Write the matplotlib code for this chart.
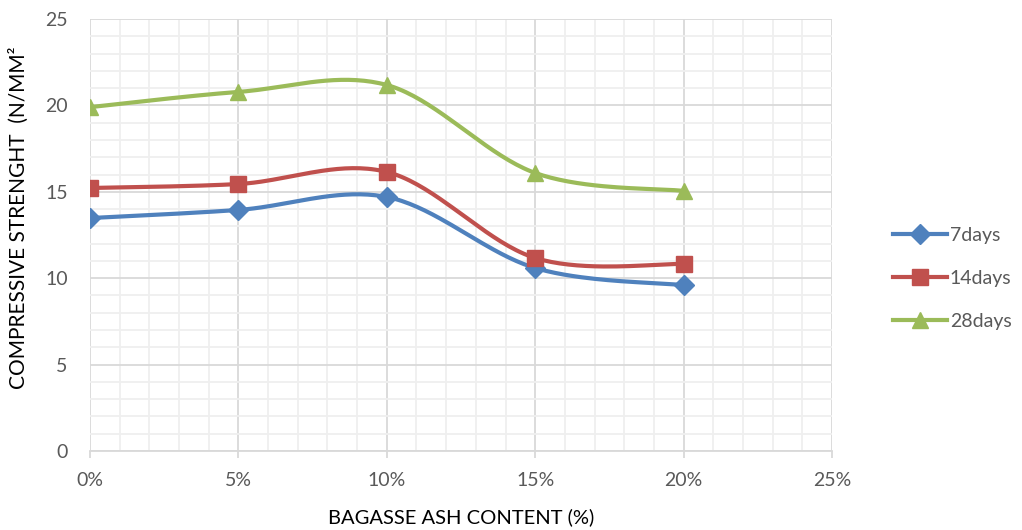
import numpy as np
import matplotlib
matplotlib.use("Agg")
import matplotlib.pyplot as plt
from matplotlib.ticker import MultipleLocator, FuncFormatter

# Data
ash_content = [0, 5, 10, 15, 20]  # %
days7 = [13.48, 13.95, 14.70, 10.59, 9.60]
days14 = [15.22, 15.45, 16.15, 11.17, 10.82]
days28 = [19.90, 20.78, 21.18, 16.09, 15.05]
series_names = ["7days", "14days", "28days"]

colors = ["#4F81BD", "#C0504D", "#9BBB59"]
markers = ["D", "s", "^"]
msizes = [10, 12, 12]
text_col = "#595959"

plt.rcParams["font.family"] = ["Lato", "DejaVu Sans"]


def excel_smooth(x, y, n=40):
    # Catmull-Rom style bezier, similar to Excel's "smoothed line"
    x = np.asarray(x, float)
    y = np.asarray(y, float)
    px = np.concatenate([[x[0]], x, [x[-1]]])
    py = np.concatenate([[y[0]], y, [y[-1]]])
    xs, ys = [], []
    t = np.linspace(0, 1, n)
    for i in range(1, len(px) - 2):
        p0 = np.array([px[i], py[i]])
        p3 = np.array([px[i + 1], py[i + 1]])
        c1 = p0 + (np.array([px[i + 1], py[i + 1]]) - np.array([px[i - 1], py[i - 1]])) / 6
        c2 = p3 - (np.array([px[i + 2], py[i + 2]]) - np.array([px[i], py[i]])) / 6
        pts = ((1 - t) ** 3)[:, None] * p0 + (3 * (1 - t) ** 2 * t)[:, None] * c1 \
            + (3 * (1 - t) * t ** 2)[:, None] * c2 + (t ** 3)[:, None] * p3
        xs.extend(pts[:, 0])
        ys.extend(pts[:, 1])
    return np.array(xs), np.array(ys)


fig = plt.figure(figsize=(10.22, 5.3), dpi=100)
ax = fig.add_axes([90 / 1022, 79 / 530, 742 / 1022, 432 / 530])

handles = []
for vals, name, c, m, ms in zip([days7, days14, days28], series_names, colors, markers, msizes):
    sx, sy = excel_smooth(ash_content, vals)
    ax.plot(sx, sy, color=c, lw=3, solid_capstyle="round", zorder=3)
    ax.plot(ash_content, vals, ls="none", marker=m, ms=ms, color=c, zorder=4)
    h, = ax.plot([], [], color=c, lw=3, marker=m, ms=ms, label=name)
    handles.append(h)

ax.set_xlim(0, 25)
ax.set_ylim(0, 25)
ax.xaxis.set_major_locator(MultipleLocator(5))
ax.xaxis.set_minor_locator(MultipleLocator(1))
ax.yaxis.set_major_locator(MultipleLocator(5))
ax.yaxis.set_minor_locator(MultipleLocator(1))
ax.xaxis.set_major_formatter(FuncFormatter(lambda v, p: f"{int(v)}%"))

ax.grid(which="major", color="#D9D9D9", lw=1.3, zorder=1)
ax.grid(which="minor", color="#EFEFEF", lw=1.3, zorder=0)
ax.set_axisbelow(True)
for s in ["top", "right", "left"]:
    ax.spines[s].set_visible(False)
ax.spines["bottom"].set_color("#D9D9D9")
ax.spines["bottom"].set_linewidth(1.3)

ax.tick_params(axis="x", which="major", length=5, color="#D9D9D9", width=1.3,
               labelsize=14, labelcolor=text_col, pad=10)
ax.tick_params(axis="y", which="major", length=0, labelsize=14, labelcolor=text_col, pad=16)
ax.tick_params(which="minor", length=0)

ax.set_xlabel("BAGASSE ASH CONTENT (%)", fontsize=14.5, color="black", labelpad=14)
ax.set_ylabel("COMPRESSIVE STRENGHT  (N/MM²", fontsize=15, color="black")
ax.yaxis.set_label_coords(-0.082, 0.54)

fig.legend(handles=handles, loc="center left", bbox_to_anchor=(875 / 1022, 0.475),
           frameon=False, fontsize=14, labelcolor=text_col, handlelength=2.8,
           handletextpad=0.15, labelspacing=1.35)

fig.savefig("out.png", dpi=100, facecolor="white")
